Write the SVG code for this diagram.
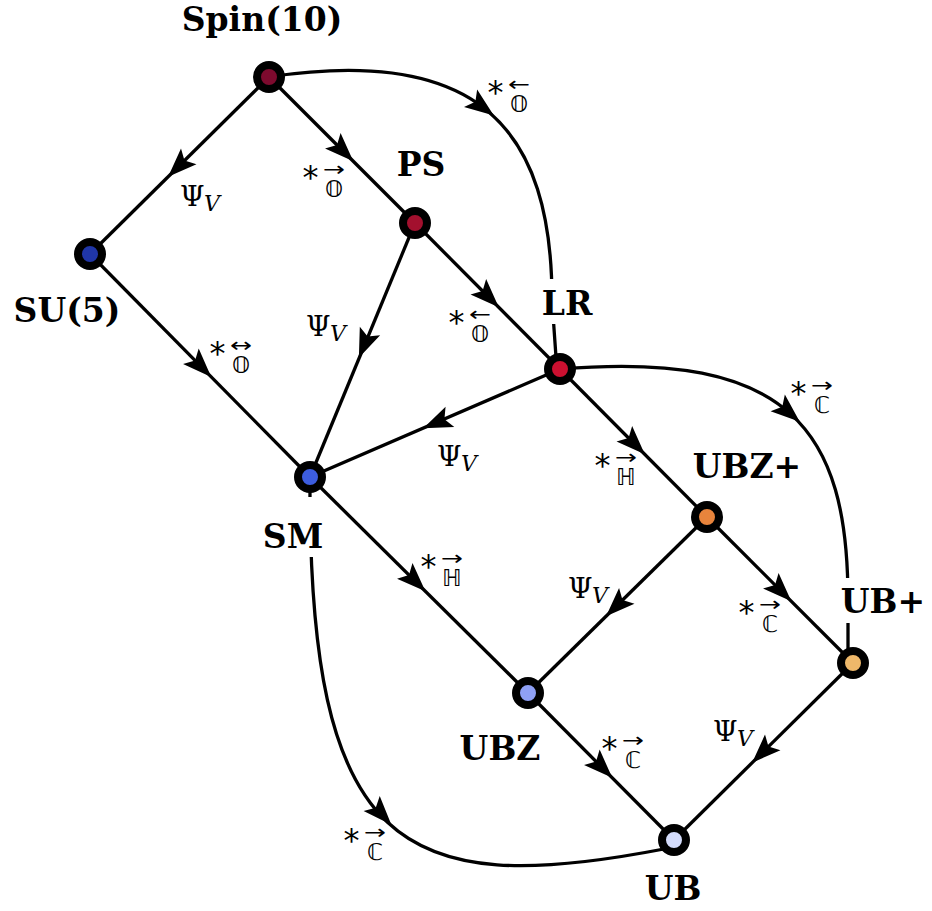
<svg xmlns="http://www.w3.org/2000/svg" xmlns:xlink="http://www.w3.org/1999/xlink" width="932" height="911" viewBox="0 0 932 911">
<style>
.e{fill:none;stroke:#000;stroke-width:3.3}
.nd{stroke:#000;stroke-width:8}
.nl{font-family:"DejaVu Serif",serif;font-weight:bold;font-size:33px;text-anchor:middle;fill:#000}
.ds{font-family:"DejaVu Sans","DejaVu Serif",sans-serif;font-size:23px;text-anchor:middle;fill:#000}
.ar{font-family:"DejaVu Sans",sans-serif;font-size:20px;fill:#000}
.st{font-family:"DejaVu Sans",sans-serif;font-size:32px;text-anchor:middle;fill:#000}
.psi{font-family:"DejaVu Serif",serif;font-size:28px;fill:#000}
.sub{font-family:"DejaVu Serif",serif;font-style:italic;font-size:22px;fill:#000}
.bg{fill:#fff}
</style>
<defs>
<path id="ah" d="M16,0 L-13,-11 L-7,0 L-13,11 Z" fill="#000"/>
</defs>
<rect width="932" height="911" fill="#fff"/>
<g id="connectors">
<path class="e" d="M269,77 L90,254"/>
<path class="e" d="M269,77 L415,223"/>
<path class="e" d="M269,77 C480,45 552,130 552,300 L556,357"/>
<path class="e" d="M90,254 L310,477"/>
<path class="e" d="M415,223 L310,477"/>
<path class="e" d="M415,223 L560,369"/>
<path class="e" d="M560,369 L310,477"/>
<path class="e" d="M560,369 L707,517"/>
<path class="e" d="M560,369 C790,350 848,430 848,600 L848,650"/>
<path class="e" d="M310,477 L528,693"/>
<path class="e" d="M310,477 C308,850 400,900 664,849"/>
<path class="e" d="M707,517 L528,693"/>
<path class="e" d="M707,517 L853,663"/>
<path class="e" d="M528,693 L674,840"/>
<path class="e" d="M853,663 L674,840"/>
<use xlink:href="#ah" transform="translate(179.5,165.5) rotate(135.3)"/>
<use xlink:href="#ah" transform="translate(342,150) rotate(45)"/>
<use xlink:href="#ah" transform="translate(481,106) rotate(36.7)"/>
<use xlink:href="#ah" transform="translate(200,365.5) rotate(45.4)"/>
<use xlink:href="#ah" transform="translate(365,343) rotate(112.5)"/>
<use xlink:href="#ah" transform="translate(487.5,296) rotate(45.2)"/>
<use xlink:href="#ah" transform="translate(438,422) rotate(156.6)"/>
<use xlink:href="#ah" transform="translate(633.5,443) rotate(45.2)"/>
<use xlink:href="#ah" transform="translate(787.6,411.4) rotate(40.5)"/>
<use xlink:href="#ah" transform="translate(414,580) rotate(44.7)"/>
<use xlink:href="#ah" transform="translate(380.5,813) rotate(47.2)"/>
<use xlink:href="#ah" transform="translate(617.5,605) rotate(135.5)"/>
<use xlink:href="#ah" transform="translate(780,590) rotate(45)"/>
<use xlink:href="#ah" transform="translate(601,766.5) rotate(45.2)"/>
<use xlink:href="#ah" transform="translate(763.5,751.5) rotate(135.3)"/>
<g transform="translate(334,197)"><text class="st" x="-23.5" y="-9">*</text><text class="ar" x="-11" y="-21" textLength="22" lengthAdjust="spacingAndGlyphs">→</text><text class="ds">𝕆</text></g>
<g transform="translate(519,112)"><text class="st" x="-23.5" y="-9">*</text><text class="ar" x="-11" y="-21" textLength="22" lengthAdjust="spacingAndGlyphs">←</text><text class="ds">𝕆</text></g>
<g transform="translate(480,342)"><text class="st" x="-23.5" y="-9">*</text><text class="ar" x="-11" y="-21" textLength="22" lengthAdjust="spacingAndGlyphs">←</text><text class="ds">𝕆</text></g>
<g transform="translate(241,373)"><text class="st" x="-23.5" y="-9">*</text><text class="ar" x="-11" y="-21" textLength="22" lengthAdjust="spacingAndGlyphs">↔</text><text class="ds">𝕆</text></g>
<g transform="translate(626,485)"><text class="st" x="-23.5" y="-9">*</text><text class="ar" x="-11" y="-21" textLength="22" lengthAdjust="spacingAndGlyphs">→</text><text class="ds">ℍ</text></g>
<g transform="translate(822,413)"><text class="st" x="-23.5" y="-9">*</text><text class="ar" x="-11" y="-21" textLength="22" lengthAdjust="spacingAndGlyphs">→</text><text class="ds">ℂ</text></g>
<g transform="translate(452,586)"><text class="st" x="-23.5" y="-9">*</text><text class="ar" x="-11" y="-21" textLength="22" lengthAdjust="spacingAndGlyphs">→</text><text class="ds">ℍ</text></g>
<g transform="translate(770,632)"><text class="st" x="-23.5" y="-9">*</text><text class="ar" x="-11" y="-21" textLength="22" lengthAdjust="spacingAndGlyphs">→</text><text class="ds">ℂ</text></g>
<g transform="translate(633,768)"><text class="st" x="-23.5" y="-9">*</text><text class="ar" x="-11" y="-21" textLength="22" lengthAdjust="spacingAndGlyphs">→</text><text class="ds">ℂ</text></g>
<g transform="translate(375,860)"><text class="st" x="-23.5" y="-9">*</text><text class="ar" x="-11" y="-21" textLength="22" lengthAdjust="spacingAndGlyphs">→</text><text class="ds">ℂ</text></g>
<g transform="translate(180,206)"><text class="psi">Ψ</text><text class="sub" x="24" y="5">V</text></g>
<g transform="translate(306,336)"><text class="psi">Ψ</text><text class="sub" x="24" y="5">V</text></g>
<g transform="translate(437,466)"><text class="psi">Ψ</text><text class="sub" x="24" y="5">V</text></g>
<g transform="translate(568,598)"><text class="psi">Ψ</text><text class="sub" x="24" y="5">V</text></g>
<g transform="translate(713,741)"><text class="psi">Ψ</text><text class="sub" x="24" y="5">V</text></g>
</g>
<g id="node-spin10"><circle class="nd" cx="269" cy="77" r="12" fill="#7d0a2e"/><text class="nl" x="262" y="31">Spin(10)</text></g>
<g id="node-su5"><circle class="nd" cx="90" cy="254" r="12" fill="#2036a8"/><text class="nl" x="67" y="322">SU(5)</text></g>
<g id="node-ps"><circle class="nd" cx="415" cy="223" r="12" fill="#a3102e"/><text class="nl" x="421" y="176">PS</text></g>
<g id="node-lr"><rect class="bg" x="538" y="279" width="60" height="45"/><circle class="nd" cx="560" cy="369" r="12" fill="#cc1030"/><text class="nl" x="567" y="315">LR</text></g>
<g id="node-sm"><rect class="bg" x="262" y="497" width="62" height="60"/><circle class="nd" cx="310" cy="477" r="12" fill="#3d5ddf"/><text class="nl" x="293" y="548">SM</text></g>
<g id="node-ubzp"><circle class="nd" cx="707" cy="517" r="12" fill="#e8843c"/><text class="nl" x="747" y="478">UBZ+</text></g>
<g id="node-ubp"><rect class="bg" x="834" y="578" width="96" height="45"/><circle class="nd" cx="853" cy="663" r="12" fill="#eeb86a"/><text class="nl" x="883" y="613">UB+</text></g>
<g id="node-ubz"><circle class="nd" cx="528" cy="693" r="12" fill="#8fa0f5"/><text class="nl" x="500" y="760">UBZ</text></g>
<g id="node-ub"><circle class="nd" cx="674" cy="840" r="12" fill="#d4dcfb"/><text class="nl" x="673" y="900">UB</text></g>
</svg>
